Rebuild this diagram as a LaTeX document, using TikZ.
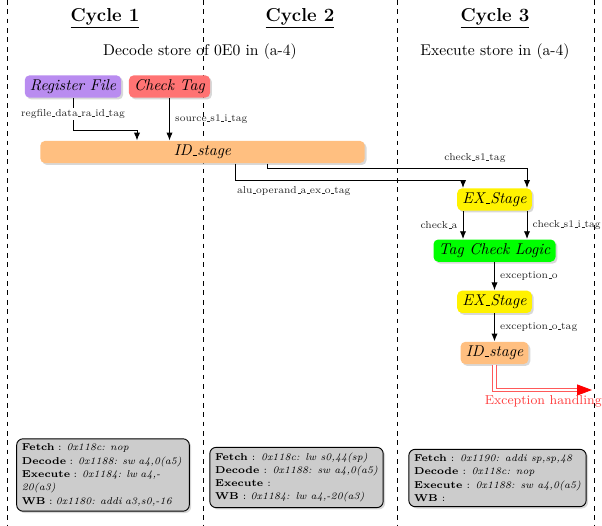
\documentclass[tikz,border=0pt]{standalone}
\usepackage{tikz}
\usetikzlibrary{arrows.meta, calc, positioning, shadows}
\definecolor{regpurple}{RGB}{185,140,240}
\newcommand{\usc}{\leavevmode\kern.06em\vbox{\hrule width.3em}}
\tikzset{%
  every path/.style={semithick},
    wire/.style={%
        ->,
        >={Latex[length=5pt, width=4pt]},
    },
    sep/.style={%
        thin, dashed,
    },
    stage/.style={%
        rectangle,
        rounded corners=3pt,
        minimum height=0.5cm,
        inner ysep=1pt,
        font=\itshape,
        text centered,
        drop shadow={shadow xshift=1.2pt, shadow yshift=-1.2pt, fill=black!30},
    },
    sig/.style={%
        font=\fontsize{6.5}{8}\selectfont,
        text=black!85,
    },
    info/.style={%
        rectangle,
        draw=black,
        fill=gray!40,
        rounded corners=4pt,
        font=\fontsize{6.4}{8.5}\selectfont,
        align=left,
        drop shadow={shadow xshift=1.2pt, shadow yshift=-1.2pt, fill=black!30},
    },
    exc/.style={%
        draw=red!65, double=white, double distance=1.6pt, line width=0.5pt,
        -{Triangle[length=9.5pt, width=7pt, color=red, fill=red]},
    },
    cycle/.style={%
        font=\large\bfseries,
    },
}

\begin{document}
\begin{tikzpicture}[x=0.0225cm, y=-0.0225cm]
	\useasboundingbox (0,0) rectangle (602,526);

	\foreach \x in {7,203,397,594}
		\draw[sep] (\x,0) -- (\x,526);

	\foreach \i/\x in {1/105,2/300,3/495}
		\node[cycle] (cycle\i) at (\x,18) {\underline{Cycle \i}};

	\node (decode) at (200,52) {Decode store of 0E0 in (a-4)};
	\node (execute) at (495,52) {Execute store in (a-4)};

	% cycle 1
	\node[stage, fill=regpurple] (regfile) at (73,86.5) {Register File};
	\node[stage, fill=red!55] (checktag) at (169.5,86.5) {Check Tag};
	\node[stage, fill=orange!50, minimum width=7.3cm] (idstage) at (202.5,152) {ID\usc stage};

	% cycle 3
	\node[stage, fill=yellow] (exstage) at (494.5,199.5) {EX\usc Stage};
	\node[stage, fill=green, below=0.63cm of exstage] (tagcheck) {Tag Check Logic};
	\node[stage, fill=yellow, below=0.63cm of tagcheck] (exstage2) {EX\usc Stage};
	\node[stage, fill=orange!50, below=0.63cm of exstage2] (idstage2) {ID\usc stage};
	\coordinate (handler) at (592,390);

	\draw[wire] (regfile.south) -- ++(0,32) node[sig, midway, fill=white, inner ysep=1pt] {regfile\usc data\usc ra\usc id\usc tag}
		-| ($(idstage.north)+(-65.5,0)$);
	\draw[wire] (checktag) -- (checktag |- idstage.north) node[sig, midway, right] {source\usc s1\usc i\usc tag};

	\draw[wire] ($(idstage.south)+(32.5,0)$) -- ++(0,17)
		node[sig, below right, inner xsep=1pt] {alu\usc operand\usc a\usc ex\usc o\usc tag}
		-| ($(exstage.north)+(-31.5,0)$);
	\draw[wire] ($(idstage.south)+(64.5,0)$) -- ++(0,5)
		-| ($(exstage.north)+(32.5,0)$) node[sig, pos=0.4, above] {check\usc s1\usc tag};

	\draw[wire] ($(exstage.south)+(-31.5,0)$) -- ($(tagcheck.north)+(-31.5,0)$) node[sig, midway, left] {check\usc a};
	\draw[wire] ($(exstage.south)+(32.5,0)$) -- ($(tagcheck.north)+(32.5,0)$) node[sig, midway, right] {check\usc s1\usc i\usc tag};
	\draw[wire] (tagcheck) -- (exstage2) node[sig, midway, right] {exception\usc o};
	\draw[wire] (exstage2) -- (idstage2) node[sig, midway, right] {exception\usc o\usc tag};

	\draw[exc] (idstage2) |- (handler) node[pos=0.75, below, text=red!75, font=\fontsize{8.3}{10}\selectfont] {Exception handling};

	% pipeline contents
	\node[info, text width=3.65cm] (info1) at (103,475) {%
		\textbf{Fetch} : \textit{0x118c: nop}\\
		\textbf{Decode} : \textit{0x1188: sw a4,0(a5)}\\
		\textbf{Execute} : \textit{0x1184: lw a4,-20(a3)}\\
		\textbf{WB} : \textit{0x1180: addi a3,s0,-16}};
	\node[info] (info2) at (296.5,477.5) {%
		\textbf{Fetch} : \textit{0x118c: lw s0,44(sp)}\\
		\textbf{Decode} : \textit{0x1188: sw a4,0(a5)}\\
		\textbf{Execute} : \\
		\textbf{WB} : \textit{0x1184: lw a4,-20(a3)}};
	\node[info] (info3) at (497.5,478) {%
		\textbf{Fetch} : \textit{0x1190: addi sp,sp,48}\\
		\textbf{Decode} : \textit{0x118c: nop}\\
		\textbf{Execute} : \textit{0x1188: sw a4,0(a5)}\\
		\textbf{WB} :};
\end{tikzpicture}
\end{document}
